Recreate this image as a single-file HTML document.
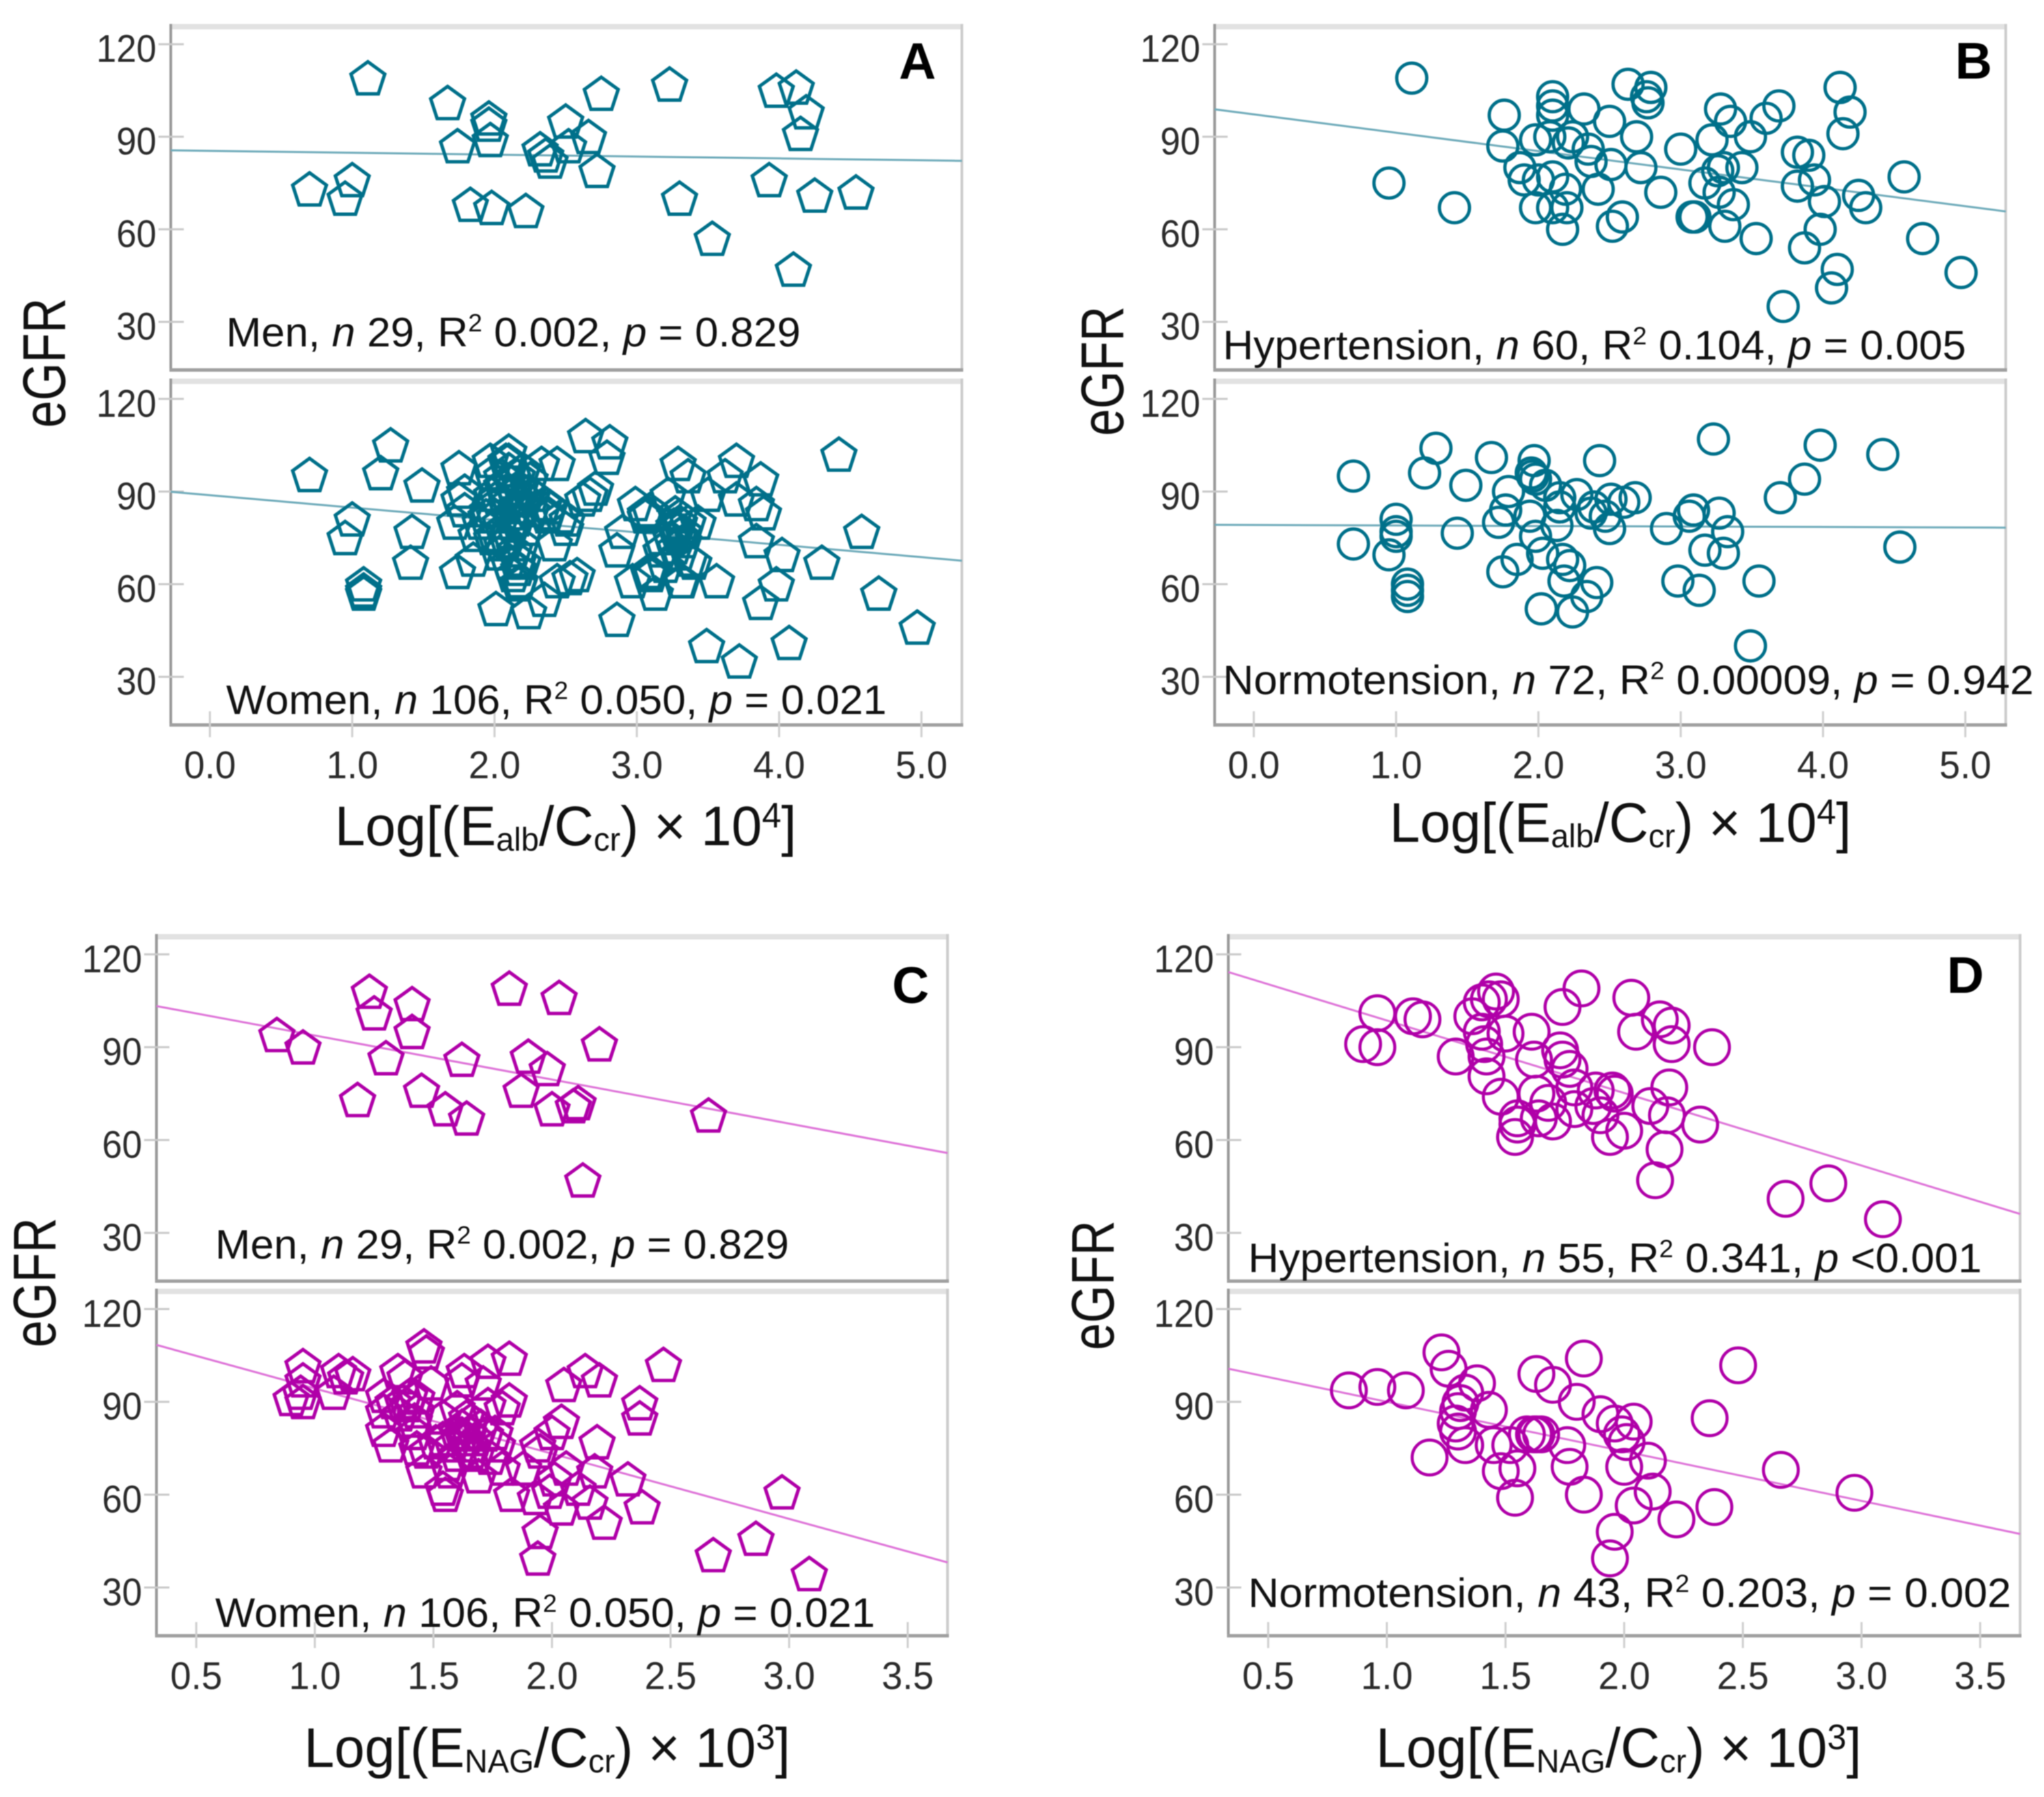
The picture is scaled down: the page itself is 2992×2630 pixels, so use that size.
<!DOCTYPE html>
<html lang="en">
<head>
<meta charset="utf-8">
<title>eGFR scatter plots</title>
<style>
html,body{margin:0;padding:0;background:#fff;width:2992px;height:2630px;overflow:hidden}
svg{display:block;filter:blur(0.9px)}
text{font-family:"Liberation Sans",sans-serif;fill:#111}
.ann{font-size:60px}
.ann .sup{font-size:36px}
.ttl{font-size:82px}
.ttl .sub{font-size:48px}
.ttl .sup{font-size:52px}
.yttl{font-size:88px}
.ltr{font-size:75px;font-weight:bold;fill:#000}
.it{font-style:italic}
.tick{font-size:57px;fill:#2b2b2b}
</style>
</head>
<body>
<svg id="figure" xmlns="http://www.w3.org/2000/svg" width="2992" height="2630" viewBox="0 0 2992 2630">
  <rect x="0" y="0" width="2992" height="2630" fill="#fff"/>
  <g id="charts"></g>

  <g transform="translate(1343,115)"><text class="ltr" text-anchor="middle">A</text></g>
  <g transform="translate(2889,115)"><text class="ltr" text-anchor="middle">B</text></g>
  <g transform="translate(1333,1468)"><text class="ltr" text-anchor="middle">C</text></g>
  <g transform="translate(2877,1453)"><text class="ltr" text-anchor="middle">D</text></g>

  <g transform="translate(95,531) rotate(-90)"><text class="yttl fit" data-fit="190" text-anchor="middle">eGFR</text></g>
  <g transform="translate(1644,543) rotate(-90)"><text class="yttl fit" data-fit="190" text-anchor="middle">eGFR</text></g>
  <g transform="translate(81,1877) rotate(-90)"><text class="yttl fit" data-fit="190" text-anchor="middle">eGFR</text></g>
  <g transform="translate(1630,1881) rotate(-90)"><text class="yttl fit" data-fit="190" text-anchor="middle">eGFR</text></g>

  <g transform="translate(490,1237)"><text class="ttl fit" data-fit="676">Log[(E<tspan class="sub" dy="8">alb</tspan><tspan dy="-8">/C</tspan><tspan class="sub" dy="8">cr</tspan><tspan dy="-8">) × 10</tspan><tspan class="sup" dy="-26">4</tspan><tspan dy="26">]</tspan></text></g>
  <g transform="translate(2034,1232)"><text class="ttl fit" data-fit="676">Log[(E<tspan class="sub" dy="8">alb</tspan><tspan dy="-8">/C</tspan><tspan class="sub" dy="8">cr</tspan><tspan dy="-8">) × 10</tspan><tspan class="sup" dy="-26">4</tspan><tspan dy="26">]</tspan></text></g>
  <g transform="translate(445,2586)"><text class="ttl fit" data-fit="712">Log[(E<tspan class="sub" dy="8">NAG</tspan><tspan dy="-8">/C</tspan><tspan class="sub" dy="8">cr</tspan><tspan dy="-8">) × 10</tspan><tspan class="sup" dy="-26">3</tspan><tspan dy="26">]</tspan></text></g>
  <g transform="translate(2014,2586)"><text class="ttl fit" data-fit="711">Log[(E<tspan class="sub" dy="8">NAG</tspan><tspan dy="-8">/C</tspan><tspan class="sub" dy="8">cr</tspan><tspan dy="-8">) × 10</tspan><tspan class="sup" dy="-26">3</tspan><tspan dy="26">]</tspan></text></g>

  <g transform="translate(331,507)"><text class="ann fit" data-fit="841">Men, <tspan class="it">n</tspan> 29, R<tspan class="sup" dy="-22">2</tspan><tspan dy="22"> 0.002, </tspan><tspan class="it">p</tspan> = 0.829</text></g>
  <g transform="translate(331,1045)"><text class="ann fit" data-fit="967">Women, <tspan class="it">n</tspan> 106, R<tspan class="sup" dy="-22">2</tspan><tspan dy="22"> 0.050, </tspan><tspan class="it">p</tspan> = 0.021</text></g>
  <g transform="translate(1790,526)"><text class="ann fit" data-fit="1088">Hypertension, <tspan class="it">n</tspan> 60, R<tspan class="sup" dy="-22">2</tspan><tspan dy="22"> 0.104, </tspan><tspan class="it">p</tspan> = 0.005</text></g>
  <g transform="translate(1790,1016)"><text class="ann fit" data-fit="1187">Normotension, <tspan class="it">n</tspan> 72, R<tspan class="sup" dy="-22">2</tspan><tspan dy="22"> 0.00009, </tspan><tspan class="it">p</tspan> = 0.942</text></g>
  <g transform="translate(315,1842)"><text class="ann fit" data-fit="840">Men, <tspan class="it">n</tspan> 29, R<tspan class="sup" dy="-22">2</tspan><tspan dy="22"> 0.002, </tspan><tspan class="it">p</tspan> = 0.829</text></g>
  <g transform="translate(315,2381)"><text class="ann fit" data-fit="966">Women, <tspan class="it">n</tspan> 106, R<tspan class="sup" dy="-22">2</tspan><tspan dy="22"> 0.050, </tspan><tspan class="it">p</tspan> = 0.021</text></g>
  <g transform="translate(1827,1862)"><text class="ann fit" data-fit="1074">Hypertension, <tspan class="it">n</tspan> 55, R<tspan class="sup" dy="-22">2</tspan><tspan dy="22"> 0.341, </tspan><tspan class="it">p</tspan> &lt;0.001</text></g>
  <g transform="translate(1827,2352)"><text class="ann fit" data-fit="1117">Normotension, <tspan class="it">n</tspan> 43, R<tspan class="sup" dy="-22">2</tspan><tspan dy="22"> 0.203, </tspan><tspan class="it">p</tspan> = 0.002</text></g>
</svg>

<script>
// ---- Axis ticks and labels ----
const albTicks = [0, 1, 2, 3, 4, 5];
const albTickLabels = ['0.0', '1.0', '2.0', '3.0', '4.0', '5.0'];
const nagTicks = [0.5, 1, 1.5, 2, 2.5, 3, 3.5];
const nagTickLabels = ['0.5', '1.0', '1.5', '2.0', '2.5', '3.0', '3.5'];
const egfrTicks = [120, 90, 60, 30];
const egfrTickLabels = ['120', '90', '60', '30'];

// ---- Regression line eGFR values at the left and right plot edges ----
const fitAlbMen = [85.6, 82.2];
const fitAlbWomen = [89.9, 67.6];
const fitAlbHyper = [98.9, 65.8];
const fitAlbNormo = [79.2, 78.3];
const fitNagMen = [103.3, 55.8];
const fitNagWomen = [108.4, 38.1];
const fitNagHyper = [114.3, 36.1];
const fitNagNormo = [100.7, 47.3];

// ---- Scatter points: [log ratio, eGFR] ----
const albMen = [[1.11,109],[1.67,101],[1.96,96],[1.96,94],[1.97,89],[1.74,87],[1.83,68],[1.98,67],[2.22,66],[2.32,86],[2.39,82],[2.36,84],[2.5,95],[2.52,87],[2.66,90],[2.72,79],[2.75,104],[3.23,107],[3.3,70],[3.53,57],[3.93,76],[3.98,105],[4.12,106],[4.19,98],[4.15,91],[4.1,47],[4.25,71],[4.54,72],[0.7,73],[1,76],[0.95,70]];

const albWomen = [[0.7,95.4],[1.27,105],[1.2,96],[1.49,92],[1,81],[0.95,75],[1.42,77],[1.41,67],[1.08,60],[1.08,58],[1.08,57],[1.74,64],[1.75,97.6],[1.75,87.5],[1.72,80],[1.79,84],[2.01,52],[2.24,51],[2.35,55],[2.44,61],[2.58,63],[2.53,62],[2.33,99],[2.44,99],[2.64,108],[2.81,106],[2.79,101],[2.67,89],[2.62,87.5],[2.71,91],[2.86,48.5],[2.86,71],[2.9,77],[2.99,86],[3.06,83],[2.97,61],[3.1,63],[3.13,57],[3.32,61],[3.4,67],[3.29,99],[3.36,95],[3.22,89],[3.5,89],[3.62,95],[3.7,100],[3.7,87.5],[3.87,94],[3.84,86],[3.89,83],[3.84,74],[3.56,61],[3.49,40],[3.72,35],[4.07,41],[3.87,54],[3.98,60],[4.02,69.5],[4.3,67],[4.42,102],[4.58,77],[4.7,57],[4.97,46],
  [1.9,80],[1.87,76],[1.95,84],[1.98,89],[2,76],[2.03,70],[2.05,92],[2.08,90],[2.1,103],[2.1,100],[2.1,97],[2.1,77],[2.13,79],[2.15,88],[2.15,85],[2.17,60],[2.17,68],[2.18,61],[2.19,73],[2.2,67],[2.21,88],[2.24,90],[2.27,89],[2.1,67],[1.98,75],[1.94,82],[1.98,96],[2.37,83],[2.39,85],[2.37,82],[2.35,86],[2.42,73],[2.47,82],[2.5,78],[2.51,81],[2.2,97],[2.08,100],[1.85,68],[1.79,90],[1.97,100],
  [2.05,95],[2.12,93],[2.18,91],[2.14,90],[2.2,85],[2.12,83],[2.08,86],[2.04,80],[2.16,81],[2.09,74],[2.14,71],[2.05,73],[2,82],[2.22,78],[2.26,84],[2.16,95],[2.25,94],[2.02,88],[2.17,65],[2.13,63],
  [3.17,75],[3.26,79],[3.3,80],[3.27,72],[3.37,68],[3.33,77],[3.43,80],[3.27,83],[3.17,71],[3.3,70],[3.31,61],[3.08,64],[3.1,64],[3.09,84],[3.06,82],[3.3,76],[3.33,74],[3.27,78],[3.36,80],[3.24,75],[3.3,82],[3.2,66]];

const albHyper = [[1.11,109],[0.95,75],[1.41,67],[1.76,97],[1.75,87],[1.87,80],[1.9,76],[2,76],[1.98,89],[2.08,90],[2.1,103],[2.1,100],[2.1,97],[2.32,99],[2.5,95],[2.24,90],[2.21,88],[2.35,86],[2.37,82],[2.51,81],[2.42,73],[2.1,77],[2.19,73],[1.98,67],[2.1,67],[2.2,67],[2.17,60],[2.52,61],[2.59,64],[2.63,107],[2.79,106],[2.76,103],[2.77,101],[2.69,90],[2.72,80],[2.86,72],[3,86],[3.22,89],[3.28,99],[3.35,95],[3.49,90],[3.6,96],[3.69,100],[3.17,75],[3.26,79],[3.3,80],[3.43,80],[3.27,72],[3.37,68],[3.08,64],[3.1,64],[3.31,61],[3.53,57],[3.82,85],[3.9,84],[3.94,76],[3.82,74],[4.01,69],[3.87,54],[3.98,60],[4.1,47],[4.06,41],[3.72,35],[4.25,71],[4.3,67],[4.12,106],[4.19,98],[4.14,91],[4.57,77],[4.7,57],[4.97,46]];

const albNormo = [[0.7,95],[0.7,73],[1,81],[1,77],[1,75.5],[0.95,69.5],[1.08,60],[1.08,58],[1.08,56],[1.2,96],[1.28,104],[1.49,92],[1.43,76.5],[1.67,101],[1.72,80],[1.77,84],[1.79,90],[1.75,64],[1.85,68],[1.97,100],[1.95,96],[1.96,95],[1.98,94],[2.05,92],[1.94,82],[1.98,75.5],[2.03,70],[2.02,52],[2.15,88],[2.15,85],[2.13,79],[2.17,68],[2.22,66],[2.18,61],[2.24,51],[2.34,56],[2.41,60.5],[2.27,89],[2.39,85],[2.37,83],[2.43,100],[2.47,82],[2.5,78],[2.51,87.5],[2.6,86.5],[2.68,88],[2.9,78],[2.98,61],[3.06,82],[3.09,84],[3.13,58],[3.17,71],[3.23,107],[3.27,83],[3.3,70],[3.33,77],[3.49,40],[3.55,61],[3.7,88],[3.87,94],[3.98,105],[4.42,102],[4.54,72]];

const nagMen = [[0.84,94],[0.95,90],[1.18,73],[1.23,108],[1.25,101],[1.3,86.5],[1.41,104],[1.41,95],[1.45,76],[1.55,70],[1.64,67],[1.62,86],[1.82,109],[1.87,76],[1.9,87],[1.98,83],[2,70],[2.03,106],[2.09,71],[2.11,72],[2.2,91],[2.13,47],[2.66,68]];

const nagWomen = [[3.085,34.4],[2.97,60.8],[2.86,45.8],[2.68,40.5],[2.47,102],[2.37,89.6],[2.37,84.7],[2.38,56],[2.32,65],[2.22,51],[2.18,67.6],[2.19,77],[2.14,100],[2.2,97],[2.05,95.5],[2.04,83.6],[2,80],[1.95,48],[1.94,39.4],[1.82,104],[1.73,103],[1.63,100],[1.46,108],[1.47,106],[1.35,100],[1.38,98],[1.49,96],[1.62,97],[1.71,96],[1.82,90.5],[0.95,101.6],[0.95,97],[1.1,100],[1.16,99],[1.13,98],[1.08,93],[0.9,91],[0.95,90],[0.94,93],[1.29,92],[1.29,87],[1.33,90],[1.43,91.5],[1.39,89],[1.43,87],[1.29,81],[1.32,76],[1.42,80],[1.47,74],[1.46,67.6],[1.54,85],[1.54,78],[1.57,67.6],[1.54,62],[1.55,60],[1.69,66],[1.62,79.5],[1.63,78],[1.65,80],[1.64,85],[1.68,73],[1.73,89],[1.79,88],[1.77,76],[1.79,68.5],[1.83,60],[1.88,68.5],[1.95,74],[1.93,59],[1.94,76],[2.04,55.6],[2.06,68.5],[2.01,65],[2.11,62],[2.16,57.5],[1.99,61],[1.66,84],[1.72,79.5],[1.6,73],[1.76,80],[1.43,75],[1.51,77],[1.6,88],
  [1.6,80],[1.64,78],[1.66,76],[1.62,82],[1.58,76],[1.68,78],[1.7,82],[1.66,74],[1.74,72],[1.56,70],[1.36,86],[1.4,92],[1.42,84],[1.37,90]];

const nagHyper = [[0.96,101],[0.9,91],[0.96,90],[1.11,100],[1.15,99],[1.29,87],[1.36,100],[1.4,104.5],[1.46,108],[1.48,105.5],[1.43,105.5],[1.5,94.4],[1.4,95],[1.41,91],[1.42,87],[1.42,80.6],[1.48,74],[1.55,67],[1.55,65],[1.54,61],[1.61,95],[1.62,86],[1.63,75],[1.64,67],[1.7,66],[1.68,72],[1.74,103],[1.82,109],[1.73,89],[1.74,86],[1.77,83],[1.79,77],[1.79,70],[1.88,76],[1.95,76],[1.96,75],[1.87,71],[1.9,68],[1.94,61],[2,63],[2.03,106],[2.05,95],[2.15,99],[2.2,97],[2.2,91],[2.37,90],[2.19,77],[2.18,68],[2.11,71],[2.32,65],[2.17,57],[2.13,47],[2.68,41],[2.86,46],[3.09,34.4]];

const nagNormo = [[0.84,93.7],[0.96,94.8],[1.08,93.7],[1.23,106],[1.26,100.7],[1.38,96],[1.33,93],[1.31,89.6],[1.3,87],[1.29,83],[1.3,80.4],[1.33,76],[1.43,87.4],[1.18,72],[1.45,76],[1.48,67.6],[1.55,68.5],[1.52,76],[1.54,59],[1.63,99],[1.7,95.5],[1.59,79.5],[1.62,79.5],[1.63,79.5],[1.65,79.5],[1.76,76],[1.77,69],[1.83,60],[1.83,104],[1.8,90],[1.9,86],[1.96,83],[2.04,83.6],[1.99,79.5],[2.01,77],[2,69],[2.1,71],[2.12,61],[2.04,56.5],[1.96,48],[1.94,39.4],[2.22,52],[2.38,56],[2.36,84.7],[2.48,101.8],[2.66,68],[2.97,60.6]];

// ---- Shared axis domains ----
const albDomain = [-0.275, 5.284];
const nagDomain = [0.332, 3.668];
const egfrDomain = [14.4, 125.7];

const TEAL = '#00708a', TEAL_LINE = '#6fabba';
const MAGENTA = '#b000a8', MAGENTA_LINE = '#de74d8';

// Pixel frame and style of each sub-plot
const panels = [
  {id:'a-men',   box:[250,1408,39,541.5],   d:albDomain, pts:albMen,   fit:fitAlbMen,   t:albTicks, tl:albTickLabels, c:TEAL, lc:TEAL_LINE, m:'pentagon', r:26, sw:5, xaxis:false},
  {id:'a-women', box:[250,1408,558,1061],   d:albDomain, pts:albWomen, fit:fitAlbWomen, t:albTicks, tl:albTickLabels, c:TEAL, lc:TEAL_LINE, m:'pentagon', r:26, sw:5, xaxis:true, ly:1139},
  {id:'b-hyper', box:[1778,2936,39,541.5],  d:albDomain, pts:albHyper, fit:fitAlbHyper, t:albTicks, tl:albTickLabels, c:TEAL, lc:TEAL_LINE, m:'circle', r:22, sw:4.8, xaxis:false},
  {id:'b-normo', box:[1778,2936,558,1061],  d:albDomain, pts:albNormo, fit:fitAlbNormo, t:albTicks, tl:albTickLabels, c:TEAL, lc:TEAL_LINE, m:'circle', r:22, sw:4.8, xaxis:true, ly:1139},
  {id:'c-men',   box:[229,1387,1371,1875],  d:nagDomain, pts:nagMen,   fit:fitNagMen,   t:nagTicks, tl:nagTickLabels, c:MAGENTA, lc:MAGENTA_LINE, m:'pentagon', r:26, sw:5, xaxis:false},
  {id:'c-women', box:[229,1387,1890,2394],  d:nagDomain, pts:nagWomen, fit:fitNagWomen, t:nagTicks, tl:nagTickLabels, c:MAGENTA, lc:MAGENTA_LINE, m:'pentagon', r:26, sw:5, xaxis:true, ly:2472},
  {id:'d-hyper', box:[1798,2957,1371,1875], d:nagDomain, pts:nagHyper, fit:fitNagHyper, t:nagTicks, tl:nagTickLabels, c:MAGENTA, lc:MAGENTA_LINE, m:'circle', r:25.5, sw:4.5, xaxis:false},
  {id:'d-normo', box:[1798,2957,1890,2394], d:nagDomain, pts:nagNormo, fit:fitNagNormo, t:nagTicks, tl:nagTickLabels, c:MAGENTA, lc:MAGENTA_LINE, m:'circle', r:25.5, sw:4.5, xaxis:true, ly:2472}
];

const NS = 'http://www.w3.org/2000/svg';
function mk(parent, tag, attrs, txt) {
  const el = document.createElementNS(NS, tag);
  for (const k in attrs) el.setAttribute(k, attrs[k]);
  if (txt !== undefined) el.textContent = txt;
  parent.appendChild(el);
  return el;
}
function pentagonPoints(cx, cy, r) {
  const out = [];
  for (let i = 0; i < 5; i++) {
    const a = -Math.PI / 2 + i * 2 * Math.PI / 5;
    out.push((cx + r * Math.cos(a)).toFixed(1) + ',' + (cy + 2 + r * Math.sin(a)).toFixed(1));
  }
  return out.join(' ');
}

const root = document.getElementById('charts');
panels.forEach(function (p) {
  const L = p.box[0], R = p.box[1], T = p.box[2], B = p.box[3];
  const sx = function (v) { return L + (v - p.d[0]) / (p.d[1] - p.d[0]) * (R - L); };
  const sy = function (v) { return B - (v - egfrDomain[0]) / (egfrDomain[1] - egfrDomain[0]) * (B - T); };

  const g = mk(root, 'g', {});
  
  

  // frame
  const top = mk(g, 'rect', {x: L, y: T - 4, width: R - L + 2, height: 8, fill: '#e2e2e2'});
  
  
  const right = mk(g, 'rect', {x: R - 2, y: T - 4, width: 4, height: B - T + 6, fill: '#cccccc'});
  
  
  const left = mk(g, 'rect', {x: L - 2, y: T - 4, width: 4, height: B - T + 6, fill: '#999999'});
  
  
  const bottom = mk(g, 'rect', {x: L - 2, y: B - 2.5, width: R - L + 4, height: 5, fill: '#a0a0a0'});
  
  

  // y ticks
  egfrTicks.forEach(function (v, i) {
    const y = sy(v);
    const tk = mk(g, 'line', {x1: L - 18, x2: L + 19, y1: y, y2: y, stroke: '#c9c9c9', 'stroke-width': 3});
    
    
    const lab = mk(g, 'text', {class: 'tick', 'text-anchor': 'end', transform: 'translate(' + (L - 21) + ',' + (y + 26) + ') scale(0.925,1)'}, egfrTickLabels[i]);
    
    
  });

  // x ticks and labels
  if (p.xaxis) {
    p.t.forEach(function (v, i) {
      const x = sx(v);
      const tk = mk(g, 'line', {x1: x, x2: x, y1: B - 20, y2: B + 18, stroke: '#cfcfcf', 'stroke-width': 3});
      
      
      const lab = mk(g, 'text', {class: 'tick', 'text-anchor': 'middle', transform: 'translate(' + x + ',' + p.ly + ') scale(0.96,1)'}, p.tl[i]);
      
      
    });
  }

  // regression line
  const ln = mk(g, 'line', {x1: sx(p.d[0]), y1: sy(p.fit[0]), x2: sx(p.d[1]), y2: sy(p.fit[1]), stroke: p.lc, 'stroke-width': 3});
  
  

  // points
  p.pts.forEach(function (pt) {
    const cx = sx(pt[0]), cy = sy(pt[1]);
    let mark;
    if (p.m === 'circle') {
      mark = mk(g, 'circle', {cx: cx, cy: cy, r: p.r, fill: 'none', stroke: p.c, 'stroke-width': p.sw});
    } else {
      mark = mk(g, 'polygon', {points: pentagonPoints(cx, cy, p.r), fill: 'none', stroke: p.c, 'stroke-width': p.sw});
    }
    
    
  });
});

// Squeeze label text horizontally to its measured width in the figure
document.querySelectorAll('text.fit').forEach(function (t) {
  const target = parseFloat(t.getAttribute('data-fit'));
  const len = t.getComputedTextLength();
  if (len > 0) t.setAttribute('transform', 'scale(' + (target / len).toFixed(4) + ',1)');
});
</script>
</body>
</html>
